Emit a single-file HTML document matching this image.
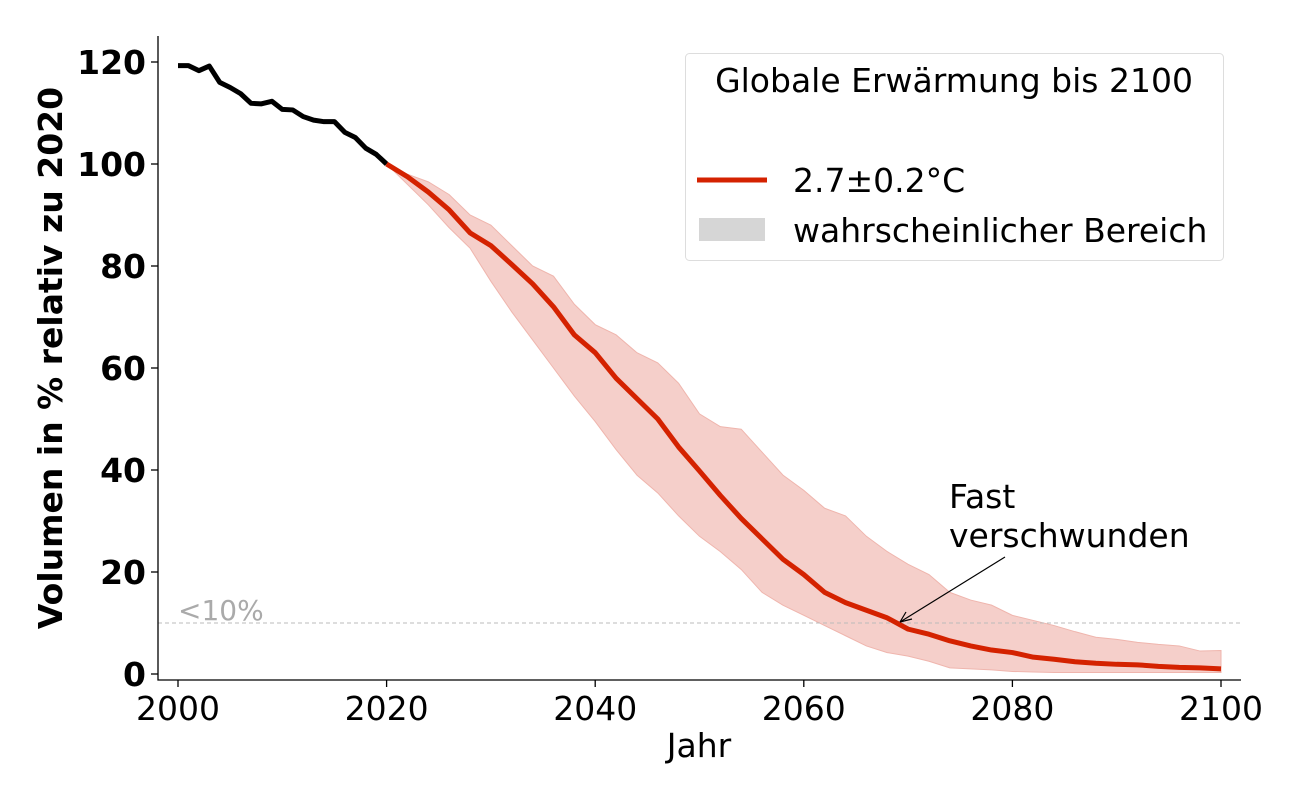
<!DOCTYPE html>
<html><head><meta charset="utf-8"><style>
body{margin:0;background:#fff;font-family:"Liberation Sans","DejaVu Sans",sans-serif}
svg text{font-family:"DejaVu Sans","Liberation Sans",sans-serif}
</style></head><body>
<svg id="c" width="1300" height="800"></svg>
<script>
const histYears=[2000,2001,2002,2003,2004,2005,2006,2007,2008,2009,2010,2011,2012,2013,2014,2015,2016,2017,2018,2019,2020];
const histValues=[119.3,119.3,118.3,119.2,116,115,113.8,111.9,111.8,112.3,110.7,110.6,109.3,108.6,108.3,108.3,106.2,105.2,103.1,101.9,100];
const projYears=[2020,2022,2024,2026,2028,2030,2032,2034,2036,2038,2040,2042,2044,2046,2048,2050,2052,2054,2056,2058,2060,2062,2064,2066,2068,2070,2072,2074,2076,2078,2080,2082,2084,2086,2088,2090,2092,2094,2096,2098,2100];
const projCentral=[100,97.5,94.5,91,86.5,84,80.3,76.5,72,66.5,63,58,54,50,44.5,39.8,35,30.5,26.5,22.5,19.5,16,14,12.5,11,8.8,7.8,6.5,5.5,4.7,4.2,3.3,2.9,2.4,2.1,1.9,1.8,1.5,1.3,1.2,1.0];
const projUpper=[100,98,96.5,94,90,88,84,80,78,72.5,68.5,66.5,63,61,57,51,48.5,48,43.5,39,36,32.5,31,27,24,21.5,19.5,16,14.5,13.5,11.5,10.5,9.5,8.3,7.2,6.8,6.2,5.8,5.5,4.5,4.6];
const projLower=[100,96,92,87.5,83.5,77,71,65.5,60,54.5,49.5,44,39,35.5,31,27,24,20.5,16,13.5,11.5,9.5,7.5,5.5,4.2,3.5,2.5,1.2,1.0,0.8,0.5,0.4,0.3,0.3,0.3,0.3,0.3,0.3,0.3,0.3,0.3];
const xTicks=[2000,2020,2040,2060,2080,2100];
const yTicks=[0,20,40,60,80,100,120];
const threshold=10;

const NS="http://www.w3.org/2000/svg";
const svg=document.getElementById('c');
const X=v=>178+(v-2000)*(1221-178)/100;
const Y=v=>674-v*(674-62)/120;
function el(t,a,p){const e=document.createElementNS(NS,t);for(const k in a)e.setAttribute(k,a[k]);(p||svg).appendChild(e);return e;}
function txt(s,a){const e=el('text',a);e.textContent=s;return e;}

let d=projYears.map((y,i)=>(i?'L':'M')+X(y)+','+Y(projUpper[i])).join('');
for(let i=projYears.length-1;i>=0;i--)d+='L'+X(projYears[i])+','+Y(projLower[i]);
const band=el('path',{d:d+'Z',fill:'#f5cfca',stroke:'#efb5ad','stroke-width':1});



const th=el('line',{x1:158,x2:1241,y1:Y(threshold),y2:Y(threshold),stroke:'#bbb','stroke-width':1,'stroke-dasharray':'4,3'});


const tl=txt('<10%',{x:178,y:Y(threshold)-3,'font-size':28,fill:'#aaa'});



const hist=el('path',{d:histYears.map((y,i)=>(i?'L':'M')+X(y)+','+Y(histValues[i])).join(''),fill:'none',stroke:'#000','stroke-width':5,'stroke-linejoin':'round'});


const proj=el('path',{d:projYears.map((y,i)=>(i?'L':'M')+X(y)+','+Y(projCentral[i])).join(''),fill:'none',stroke:'#d42200','stroke-width':5,'stroke-linejoin':'round'});



const ax=el('path',{d:'M158,36V680H1241',fill:'none',stroke:'#000','stroke-width':1.3});


xTicks.forEach(t=>{
  el('line',{x1:X(t),x2:X(t),y1:680,y2:687,stroke:'#000','stroke-width':1.3});
  const e=txt(t,{x:X(t),y:720,'font-size':33,'text-anchor':'middle'});
  
  
});
yTicks.forEach(t=>{
  el('line',{x1:151,x2:158,y1:Y(t),y2:Y(t),stroke:'#000','stroke-width':1.3});
  const e=txt(t,{x:146,y:Y(t)+12,'font-size':33,'font-weight':'bold','text-anchor':'end'});
  
  
});
</script>
<svg width="1300" height="800" style="position:absolute;left:0;top:0">
<text x="699" y="757" font-size="33" text-anchor="middle" font-family="DejaVu Sans, sans-serif">Jahr</text>
<text transform="translate(62,358) rotate(-90)" font-size="33" font-weight="bold" text-anchor="middle" font-family="DejaVu Sans, sans-serif">Volumen in % relativ zu 2020</text>
<g font-family="DejaVu Sans, sans-serif">
<text x="949" y="508" font-size="33">Fast</text>
<text x="949" y="547" font-size="33">verschwunden</text>
<line x1="1005" y1="557" x2="900" y2="622" stroke="#000" stroke-width="1.2"/>
<path d="M900,622 l12,-3 M900,622 l6,-10" stroke="#000" stroke-width="1.2" fill="none"/>
</g>
<g font-family="DejaVu Sans, sans-serif">
<rect x="685.5" y="53.5" width="538" height="207" rx="4" fill="#fff" fill-opacity="0.85" stroke="#ddd"/>
<text x="954" y="92" font-size="33" text-anchor="middle">Globale Erwärmung bis 2100</text>
<line x1="697" x2="767" y1="180" y2="180" stroke="#d42200" stroke-width="5"/>
<text x="793" y="192" font-size="33">2.7±0.2°C</text>
<rect x="699" y="218" width="66" height="23" fill="#d6d6d6"/>
<text x="793" y="242" font-size="33">wahrscheinlicher Bereich</text>
</g>
</svg>
</body></html>
